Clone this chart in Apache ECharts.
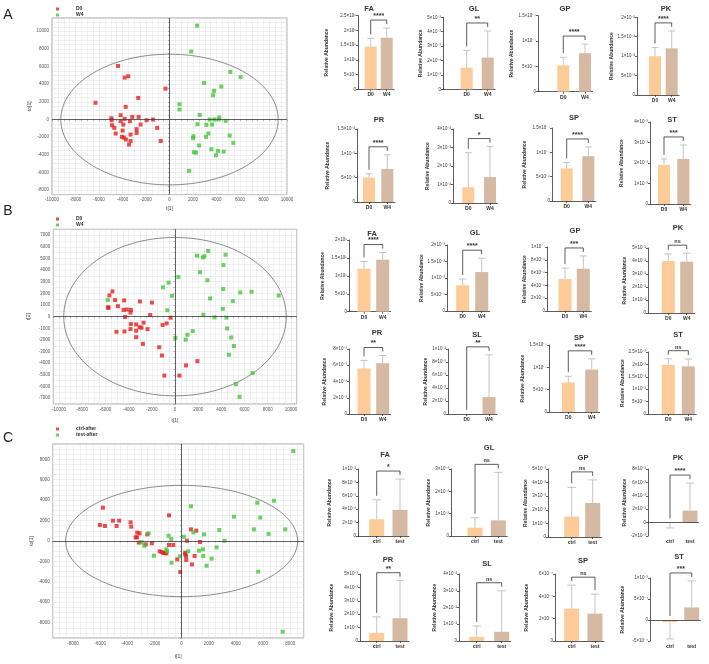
<!DOCTYPE html>
<html>
<head>
<meta charset="utf-8">
<script src="https://cdn.jsdelivr.net/npm/echarts@6/dist/echarts.min.js"></script>
<style>
html, body { margin: 0; padding: 0; background: #fff; }
#main { width: 709px; height: 664px; }
</style>
</head>
<body>
<div id="main"></div>
<script>
// ---- score plots: [t1, t2] ----
var aD0 = [[-4380,6070],[-3820,4750],[-3510,4900],[-340,3500],[-6300,1900],[-2660,2450],[-3730,1430],[-4160,490],[-4950,150],[-4920,-80],[-4890,-640],[-4700,-940],[-4580,-1580],[-3820,80],[-4160,-190],[-3930,-570],[-3990,-1250],[-4050,-1960],[-3880,-2040],[-3710,-2260],[-3370,-190],[-3170,300],[-2630,300],[-2460,-570],[-2800,-1090],[-2800,-1510],[-3310,-1700],[-3310,-2420],[-3450,-2830],[-1950,-80],[-1390,0],[-1050,-940],[-740,-2420]];
var aW4 = [[2350,10640],[1840,7700],[5180,5400],[6050,4830],[2940,4150],[4410,3740],[3790,3250],[3710,2750],[850,1740],[850,1130],[2570,530],[3420,0],[3820,0],[4190,0],[4240,230],[4780,-150],[2380,-530],[3140,-600],[3620,-570],[3310,-1580],[3110,-1960],[2040,-1890],[2010,-2110],[5120,-1810],[5430,-2640],[2520,-2940],[3560,-3360],[4130,-3550],[4610,-3620],[2070,-3700],[2260,-3740],[3960,-4040],[1670,-5810]];
var bD0 = [[-5400,2170],[-5660,1820],[-5170,1420],[-5770,810],[-5740,750],[-4930,900],[-4390,1390],[-4440,580],[-4160,610],[-3810,580],[-3840,350],[-4300,-30],[-5050,-1300],[-4360,-1270],[-3810,-640],[-3840,-1070],[-3350,-670],[-3350,-1210],[-3350,-1760],[-3060,-900],[-2890,-950],[-2710,-520],[-2370,-1070],[-3030,1300],[-1990,1210],[-2140,140],[-2770,-2340],[-1360,-2630],[-1130,-3330],[-1070,-720],[-720,-580],[-380,-90],[-920,-5060],[380,-5060],[950,-4190],[1930,-3820]];
var bW4 = [[-5800,1420],[-1040,2520],[-550,2920],[-260,1790],[-660,550],[290,3410],[30,-1820],[920,-1970],[1070,-1560],[1530,-1240],[1900,5240],[2400,5090],[2540,5180],[2860,5640],[2160,3820],[2800,3120],[3030,1560],[2450,170],[3410,-60],[4360,5320],[4180,4430],[4160,2370],[4130,670],[4440,-90],[4500,-1010],[4850,-1790],[5080,-2520],[4650,-3270],[4990,1330],[5630,2080],[6610,2140],[8950,1820],[6700,-4830],[5250,-5790],[5570,-6880]];
var cCtrl = [[-5800,3260],[-6020,1570],[-5650,1470],[-5060,1990],[-4790,1470],[-4600,1990],[-3760,1830],[-3710,1400],[-3270,820],[-3100,750],[-3390,360],[-3290,360],[-3150,-160],[-2650,-330],[-2530,650],[-2190,-230],[-1620,-1010],[-1470,-1080],[-1330,-1180],[-1230,-1180],[-1130,-1210],[-930,2510],[-930,-390],[-610,-390],[-320,-1800],[-100,-3040],[270,-1140],[270,-1310],[320,-1470],[340,-1860],[390,30],[690,1140],[1080,1010],[760,-2290],[960,-1470],[1350,-100]];
var cTest = [[-2430,750],[-2950,-130],[-2750,-460],[-2040,-1440],[-960,520],[-760,200],[-1130,-820],[-1080,-1010],[-740,-2120],[-120,-1500],[170,420],[860,850],[690,3400],[490,-1010],[1280,-950],[1570,-820],[1600,-1470],[1650,650],[1840,-2420],[2210,-1730],[2580,-620],[2780,1080],[3170,30],[3860,2380],[5330,1140],[5580,3750],[5800,2290],[5650,-3000],[6410,690],[6810,3950],[7640,1140],[8230,8810],[7450,-8880]];

// ---- bar panels, order FA GL GP PK PR SL SP ST ----
var lipids = ['FA', 'GL', 'GP', 'PK', 'PR', 'SL', 'SP', 'ST'];
var groupsAB = ['D0', 'W4'];
var groupsC = ['ctrl', 'test'];

var meanA = [[1.45,1.75],[1.5,2.2],[0.52,0.76],[1.0,1.2],[0.5,0.68],[0.85,1.4],[0.67,0.92],[1.9,2.2]];
var errA  = [[0.28,0.33],[1.2,1.85],[0.16,0.18],[0.22,0.45],[0.08,0.29],[1.87,1.65],[0.12,0.19],[0.3,0.68]];
var sigA  = ['****','**','****','****','****','*','****','***'];
var meanB = [[1.2,1.45],[0.78,1.18],[5.0,6.6],[4.0,3.95],[5.6,6.25],[0,2.6],[0.66,0.95],[1.98,1.92]];
var errB  = [[0.2,0.2],[0.19,0.42],[1.7,2.0],[0.55,0.65],[1.0,0.95],[0,6.5],[0.14,0.24],[0.25,0.3]];
var sigB  = ['****','****','***','ns','**','**','****','ns'];
var meanC = [[2.5,3.9],[0.37,0.7],[1.5,2.5],[-0.05,1.8],[0.6,1.7],[0.25,0.55],[2.9,2.45],[-0.5,3.0]];
var errC  = [[2.9,4.6],[0.45,2.15],[2.15,1.7],[0.75,4.1],[1.2,2.8],[0.65,2.45],[2.1,1.75],[4.0,6.3]];
var sigC  = ['*','ns','ns','****','**','ns','ns','***'];

// y scales [min, max, step] and tick labels
var scaleA = [[0,2.5,0.5],[0,5,1],[0,1.5,0.5],[0,2,0.5],[0,1.5,0.5],[0,4,1],[0,1.5,0.5],[0,4,1]];
var ticksA = [
  ['0','5×10⁴','1×10⁵','1.5×10⁵','2×10⁵','2.5×10⁵'],
  ['0','1×10⁻³','2×10⁻³','3×10⁻³','4×10⁻³','5×10⁻³'],
  ['0','5×10⁻⁸','1×10⁻⁷','1.5×10⁻⁷'],
  ['0','5×10⁻³','1×10⁻²','1.5×10⁻²','2×10⁻²'],
  ['0','5×10⁻³','1×10⁻²','1.5×10⁻²'],
  ['0','1×10⁻²','2×10⁻²','3×10⁻²','4×10⁻²'],
  ['0','5×10⁻⁸','1×10⁻⁷','1.5×10⁻⁷'],
  ['0','1×10⁻³','2×10⁻³','3×10⁻³','4×10⁻³']
];
var scaleB = [[0,2,0.5],[0,2,0.5],[0,10,2],[0,5,1],[0,8,2],[0,10,2],[0,1.5,0.5],[0,2.5,0.5]];
var ticksB = [
  ['0','5×10⁴','1×10⁵','1.5×10⁵','2×10⁵'],
  ['0','5×10⁻⁴','1×10⁻³','1.5×10⁻³','2×10⁻³'],
  ['0','2×10⁻⁸','4×10⁻⁸','6×10⁻⁸','8×10⁻⁸','1×10⁻⁷'],
  ['0','1×10⁻²','2×10⁻²','3×10⁻²','4×10⁻²','5×10⁻²'],
  ['0','2×10⁻³','4×10⁻³','6×10⁻³','8×10⁻³'],
  ['0','2×10⁻³','4×10⁻³','6×10⁻³','8×10⁻³','1×10⁻²'],
  ['0','5×10⁻⁸','1×10⁻⁷','1.5×10⁻⁷'],
  ['0','5×10⁻⁴','1×10⁻³','1.5×10⁻³','2×10⁻³','2.5×10⁻³']
];
var scaleC = [[0,10,2],[0,3,1],[0,5,1],[-2,8,2],[0,5,1],[0,4,1],[0,6,2],[-5,10,5]];
var ticksC = [
  ['0','2×10⁻³','4×10⁻³','6×10⁻³','8×10⁻³','1×10⁻²'],
  ['0','1×10⁻³','2×10⁻³','3×10⁻³'],
  ['0','1×10⁻³','2×10⁻³','3×10⁻³','4×10⁻³','5×10⁻³'],
  ['-2×10⁻³','0','2×10⁻³','4×10⁻³','6×10⁻³','8×10⁻³'],
  ['0','1×10⁻³','2×10⁻³','3×10⁻³','4×10⁻³','5×10⁻³'],
  ['0','1×10⁻²','2×10⁻²','3×10⁻²','4×10⁻²'],
  ['0','2×10⁻⁴','4×10⁻⁴','6×10⁻⁴'],
  ['-5×10⁻⁴','0','5×10⁻⁴','1×10⁻³']
];

// layout of each bar panel: [axisX, top, bottom, bar1X, bar2X, nameX, titleX, titleY]
var layA = [
  [358,15.7,89.3,370.7,386.7,327,369,9],[443,17.3,89.3,466.7,487.7,427,474,9],
  [538,15.7,91.7,563.3,585,523,565,9],[637,17.3,95,655,671.7,620,666,9],
  [357,129,202,369,387.3,328,379,120],[453,129,203,468.3,490,428,479,117],
  [552,128,201,566.7,588.3,525,574,118],[650,122,204,664,683.3,622,672,120]
];
var layB = [
  [349,240,311.7,364,382.7,323,372,234],[447,245,311,462.7,481.7,425,475,233],
  [547,247,311,565,583.3,527,575,231],[648,248,313,668.3,686.7,625,678,228],
  [349,349,414,364,382.7,325,377,333],[448,349,414,466.7,489,427,477,335],
  [549,345,412,568.3,591.7,527,579,338],[648,352,414,668.3,688.3,627,678,335]
];
var layC = [
  [358,469,536,376.7,400,330,385,455],[451,469,536,475,498.3,433,489,448],
  [548,469,537,571.7,592.7,527,583,458],[648,469,536,670,690,625,678,458],
  [360,574,641,376.7,400,332,388,560],[459,574,641,476.7,501.7,435,487,564],
  [555,574,641,571.7,595,527,583,561],[650,578,641,670,691.7,623,679,557]
];

var FONT = 'Liberation Sans, Arial, sans-serif';
var barColors = ['#FDCB98', '#D6B9A3'];
var red = '#E3211F', green = '#45C53B';

var grid = [], xAxis = [], yAxis = [], series = [], legend = [], graphic = [];

function addScatter(o) {
  var gi = grid.length;
  grid.push({ left: o.box[0], top: o.box[1], width: o.box[2], height: o.box[3], show: true,
    borderColor: '#8c8c8c', borderWidth: 0.8, outerBoundsMode: 'none' });
  xAxis.push({
    gridIndex: gi, type: 'value', min: o.x[0], max: o.x[1], interval: 500,
    name: 't[1]', nameLocation: 'middle', nameGap: o.xGap,
    nameTextStyle: { fontSize: 5, color: '#444', fontFamily: FONT },
    axisLine: { show: false },
    axisTick: { show: true, length: 1.5, lineStyle: { color: '#777', width: 0.5 } },
    axisLabel: { fontSize: 4.5, color: '#555', margin: 3, fontFamily: FONT,
      formatter: function (v) { return v % 2000 === 0 ? String(v) : ''; } },
    splitLine: { show: true, lineStyle: { color: '#e1e1e1', width: 0.5 } }
  });
  yAxis.push({
    gridIndex: gi, type: 'value', min: o.y[0], max: o.y[1], interval: 500,
    name: o.yName, nameLocation: 'middle', nameGap: o.yGap, nameRotate: 90,
    nameTextStyle: { fontSize: 5, color: '#444', fontFamily: FONT },
    axisLine: { show: false },
    axisTick: { show: true, length: 1.5, lineStyle: { color: '#777', width: 0.5 } },
    axisLabel: { fontSize: 4.5, color: '#555', margin: 3, fontFamily: FONT,
      formatter: function (v) { return v % o.yStep === 0 ? String(v) : ''; } },
    splitLine: { show: true, lineStyle: { color: '#e1e1e1', width: 0.5 } }
  });
  series.push({
    type: 'custom', xAxisIndex: gi, yAxisIndex: gi, silent: true, data: [[0, 0]],
    renderItem: function (params, api) {
      var c = api.coord([0, 0]);
      var s = api.size([o.ell[0], o.ell[1]]);
      return { type: 'ellipse', shape: { cx: c[0], cy: c[1], rx: s[0], ry: s[1] },
        style: { fill: 'none', stroke: '#6e6e6e', lineWidth: 0.8 } };
    }
  });
  series.push({
    name: o.names[0], type: 'scatter', xAxisIndex: gi, yAxisIndex: gi, data: o.g1,
    symbol: 'rect', symbolSize: 4, itemStyle: { color: red },
    markLine: { silent: true, symbol: ['none', 'none'], label: { show: false },
      lineStyle: { color: '#3c3c3c', width: 0.8, type: 'solid' },
      data: [{ xAxis: 0 }, { yAxis: 0 }] }
  });
  series.push({
    name: o.names[1], type: 'scatter', xAxisIndex: gi, yAxisIndex: gi, data: o.g2,
    symbol: 'rect', symbolSize: 4, itemStyle: { color: green }
  });
  legend.push({
    left: o.legend[0], top: o.legend[1], orient: 'vertical', itemWidth: 3, itemHeight: 3, itemGap: 0,
    icon: 'rect', data: o.names, selectedMode: false,
    textStyle: { fontSize: 5, fontWeight: 'bold', color: '#333', fontFamily: FONT, lineHeight: 6, padding: [0, 0, 0, 12] }
  });
  graphic.push({ type: 'text', x: o.letter[0], y: o.letter[1],
    style: { text: o.letter[2], fontSize: 14, fill: '#222', fontFamily: FONT, textAlign: 'center', textVerticalAlign: 'middle' } });
}

function addBar(name, groups, mean, err, sig, sc, ticks, lay, bw) {
  var gi = grid.length;
  var left = lay[0], top = lay[1], bottom = lay[2];
  var pos = [lay[3] - left, lay[4] - left];
  var w = pos[1] + bw / 2 + 1.5;
  var neg = sc[0] < 0;
  grid.push({ left: left, top: top, width: w, height: bottom - top, outerBoundsMode: 'none' });
  xAxis.push({
    gridIndex: gi, type: 'value', min: 0, max: w,
    axisLine: { show: !neg, onZero: false, lineStyle: { color: '#333', width: 0.8 } },
    axisTick: { show: !neg, customValues: pos, length: 2, lineStyle: { color: '#333', width: 0.8 } },
    axisLabel: { customValues: pos, fontSize: 5, color: '#333', margin: 3, fontWeight: 'bold', fontFamily: FONT,
      formatter: function (v) { return Math.abs(v - pos[0]) < 0.01 ? groups[0] : groups[1]; } },
    splitLine: { show: false }
  });
  yAxis.push({
    gridIndex: gi, type: 'value', min: sc[0], max: sc[1], interval: sc[2],
    name: 'Relative Abundance', nameLocation: 'middle', nameGap: left - lay[5] - 2, nameRotate: 90,
    nameTextStyle: { fontSize: 5, fontWeight: 'bold', color: '#333', fontFamily: FONT },
    axisLine: { show: true, lineStyle: { color: '#333', width: 0.8 } },
    axisTick: { show: true, length: 2, lineStyle: { color: '#333', width: 0.8 } },
    axisLabel: { fontSize: 4.5, color: '#333', margin: 2, fontFamily: FONT,
      formatter: function (v) { return ticks[Math.round((v - sc[0]) / sc[2])] || ''; } },
    splitLine: { show: false }
  });
  var bars = {
    type: 'custom', xAxisIndex: gi, yAxisIndex: gi, silent: true, clip: false,
    data: [[pos[0], mean[0], err[0]], [pos[1], mean[1], err[1]]],
    renderItem: function (params, api) {
      var x = api.value(0), m = api.value(1), e = api.value(2);
      var p0 = api.coord([x, 0]), p1 = api.coord([x, m]);
      var end = api.coord([x, m < 0 ? m - e : m + e]);
      var kids = [{ type: 'rect', shape: { x: p0[0] - bw / 2, y: Math.min(p0[1], p1[1]), width: bw, height: Math.abs(p1[1] - p0[1]) },
        style: { fill: barColors[params.dataIndex] } }];
      if (e > 0) {
        kids.push({ type: 'line', shape: { x1: p1[0], y1: p1[1], x2: end[0], y2: end[1] }, style: { stroke: '#b5b5b5', lineWidth: 0.8 } });
        kids.push({ type: 'line', shape: { x1: end[0] - bw * 0.28, y1: end[1], x2: end[0] + bw * 0.28, y2: end[1] }, style: { stroke: '#b5b5b5', lineWidth: 0.8 } });
      }
      return { type: 'group', children: kids };
    }
  };
  if (neg) {
    bars.markLine = { silent: true, symbol: ['none', 'none'], label: { show: false },
      lineStyle: { color: '#333', width: 0.8, type: 'solid' }, data: [{ yAxis: 0 }] };
  }
  series.push(bars);
  // significance bracket over the two bars
  series.push({
    type: 'custom', xAxisIndex: gi, yAxisIndex: gi, silent: true, clip: false, data: [[pos[0], 0]],
    renderItem: function (params, api) {
      var tops = [0, 1].map(function (i) {
        var up = mean[i] >= 0 ? mean[i] + err[i] : 0;
        return api.coord([pos[i], up]);
      });
      var y = Math.min(tops[0][1], tops[1][1]) - 8;
      return { type: 'group', children: [
        { type: 'polyline', shape: { points: [[tops[0][0], tops[0][1] - 4], [tops[0][0], y], [tops[1][0], y], [tops[1][0], tops[1][1] - 4]] },
          style: { stroke: '#333', fill: null, lineWidth: 0.8 } },
        { type: 'text', style: { text: sig, x: (tops[0][0] + tops[1][0]) / 2, y: y - 0.5, textAlign: 'center', textVerticalAlign: 'bottom',
          fontSize: sig === 'ns' ? 5.5 : 7, fontWeight: 'bold', fill: '#333', fontFamily: FONT } }
      ] };
    }
  });
  graphic.push({ type: 'text', x: lay[6], y: lay[7],
    style: { text: name, fontSize: 7.5, fontWeight: 'bold', fill: '#333', fontFamily: FONT, textAlign: 'center', textVerticalAlign: 'middle' } });
}

addScatter({ box: [52, 18, 235, 176.6], x: [-10000, 10000], y: [-8500, 11500], yStep: 2000, ell: [9250, 7400],
  yName: 'to[1]', yGap: 18, xGap: 12, g1: aD0, g2: aW4, names: ['D0', 'W4'], legend: [51, 1], letter: [8, 15, 'A'] });
addScatter({ box: [53.3, 229.3, 243.4, 174.7], x: [-10500, 10500], y: [-7500, 7500], yStep: 1000, ell: [9600, 6800],
  yName: 't[2]', yGap: 22, xGap: 14, g1: bD0, g2: bW4, names: ['D0', 'W4'], legend: [51, 211], letter: [8, 211, 'B'] });
addScatter({ box: [52.7, 444, 251, 194], x: [-9500, 9000], y: [-9500, 9500], yStep: 2000, ell: [8550, 5450],
  yName: 'to[1]', yGap: 19, xGap: 16, g1: cCtrl, g2: cTest, names: ['ctrl-after', 'test-after'], legend: [51, 421], letter: [8, 438, 'C'] });

for (var i = 0; i < 8; i++) {
  addBar(lipids[i], groupsAB, meanA[i], errA[i], sigA[i], scaleA[i], ticksA[i], layA[i], 12);
  addBar(lipids[i], groupsAB, meanB[i], errB[i], sigB[i], scaleB[i], ticksB[i], layB[i], 13);
  addBar(lipids[i], groupsC, meanC[i], errC[i], sigC[i], scaleC[i], ticksC[i], layC[i], 15);
}

var chart = echarts.init(document.getElementById('main'), null, { renderer: 'canvas' });
chart.setOption({
  animation: false,
  backgroundColor: '#fff',
  grid: grid,
  xAxis: xAxis,
  yAxis: yAxis,
  legend: legend,
  graphic: graphic,
  series: series
});
</script>
</body>
</html>
